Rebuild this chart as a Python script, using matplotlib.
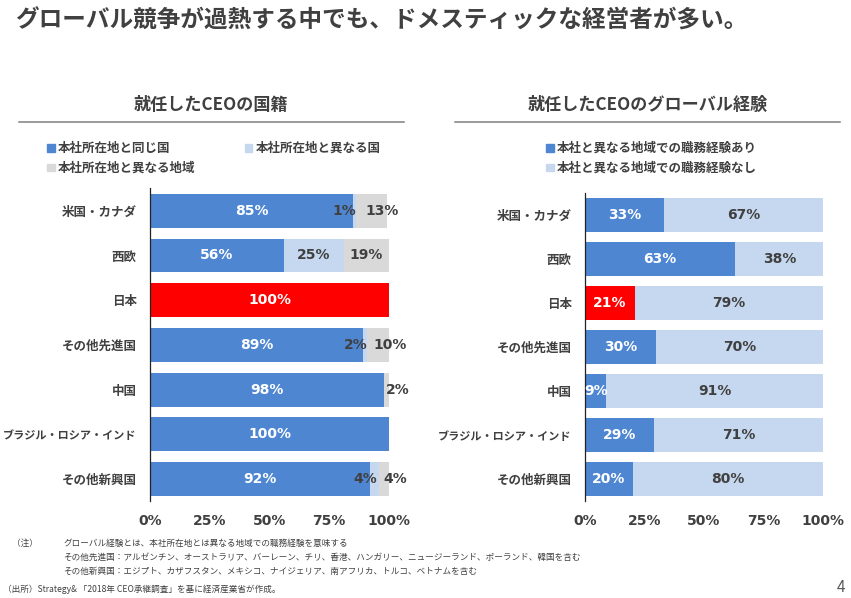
import matplotlib
matplotlib.use("Agg")
import matplotlib.pyplot as plt
from matplotlib.patches import Patch
import numpy as np

plt.rcParams['font.family'] = ['Noto Sans CJK JP', 'DejaVu Sans']

# data
regions = ['米国・カナダ', '西欧', '日本', 'その他先進国', '中国',
           'ブラジル・ロシア・インド', 'その他新興国']
same_country = [85, 56, 100, 89, 98, 100, 92]
other_country = [1, 25, 0, 2, 0, 0, 4]
other_region = [13, 19, 0, 10, 2, 0, 4]
with_exp = [33, 63, 21, 30, 9, 29, 20]
without_exp = [67, 38, 79, 70, 91, 71, 80]
xticks = [0, 25, 50, 75, 100]

BLUE = '#4E86D2'
LIGHT = '#C6D8EF'
GRAY = '#D9D9D9'
RED = '#FF0000'
DARK = '#404040'

fig = plt.figure(figsize=(8.51, 5.98), dpi=100)

# main title
fig.text(15/851, 1 - 21/598, 'グローバル競争が過熱する中でも、ドメスティックな経営者が多い。',
         fontsize=17, fontweight='bold', color=DARK, va='center', ha='left')

ax1 = fig.add_axes([150/851, 0.1615, 239/851, 0.5234])
ax2 = fig.add_axes([585/851, 0.1622, 238/851, 0.515])

y = np.arange(len(regions))
h = 0.76


def setup(ax):
    ax.set_xlim(0, 100)
    ax.set_ylim(-0.5, len(regions) - 0.5)
    ax.invert_yaxis()
    for s in ['top', 'right', 'bottom']:
        ax.spines[s].set_visible(False)
    ax.spines['left'].set_linewidth(0.9)
    ax.spines['left'].set_color('#222222')
    ax.set_yticks(y)
    ax.set_yticklabels(regions, fontweight='bold', color=DARK)
    for t in ax.get_yticklabels():
        # long label would not fit in the margin otherwise
        t.set_fontsize(8 if len(t.get_text()) > 8 else 9)
    ax.set_xticks(xticks)
    ax.set_xticklabels([f'{t}%' for t in xticks], fontsize=10, fontweight='bold',
                       color=DARK, family='DejaVu Sans')
    ax.tick_params(length=0)
    ax.tick_params(axis='y', pad=9.5)
    ax.tick_params(axis='x', pad=9)


def label(ax, x, yy, v, color):
    if v <= 0:
        return
    ax.text(x, yy, f'{v}%', ha='center', va='center', fontsize=10,
            fontweight='bold', color=color, family='DejaVu Sans')


# left chart
c1 = [RED if r == '日本' else BLUE for r in regions]
s = np.array(same_country)
o = np.array(other_country)
g = np.array(other_region)
ax1.barh(y, s, height=h, color=c1)
ax1.barh(y, o, left=s, height=h, color=LIGHT)
ax1.barh(y, g, left=s + o, height=h, color=GRAY)
for i in range(len(regions)):
    label(ax1, s[i] / 2, y[i], s[i], 'white')
    dx = -4 if o[i] < 10 else 0
    label(ax1, s[i] + o[i] / 2 + dx, y[i], o[i], DARK)
    dx = 4.5 if g[i] < 15 else 0
    label(ax1, s[i] + o[i] + g[i] / 2 + dx, y[i], g[i], DARK)
setup(ax1)

# right chart
c2 = [RED if r == '日本' else BLUE for r in regions]
w = np.array(with_exp)
n = np.array(without_exp)
ax2.barh(y, w, height=h, color=c2)
ax2.barh(y, n, left=w, height=h, color=LIGHT)
for i in range(len(regions)):
    label(ax2, w[i] / 2, y[i], w[i], 'white')
    label(ax2, w[i] + n[i] / 2, y[i], n[i], DARK)
setup(ax2)

# legends
lh1 = [Patch(color=BLUE), Patch(color=GRAY), Patch(color=LIGHT)]
ll1 = ['本社所在地と同じ国', '本社所在地と異なる地域', '本社所在地と異なる国']
leg1 = fig.legend(lh1, ll1, ncol=2, loc='upper left', bbox_to_anchor=(47/851, 1 - 142/598),
                  frameon=False, handlelength=0.6, handleheight=0.6, handletextpad=0.3,
                  columnspacing=3.9, labelspacing=0.55, borderaxespad=0, borderpad=0,
                  prop={'size': 9, 'weight': 'bold'})
for t in leg1.get_texts():
    t.set_color(DARK)
lh2 = [Patch(color=BLUE), Patch(color=LIGHT)]
ll2 = ['本社と異なる地域での職務経験あり', '本社と異なる地域での職務経験なし']
leg2 = fig.legend(lh2, ll2, ncol=1, loc='upper left', bbox_to_anchor=(546/851, 1 - 142/598),
                  frameon=False, handlelength=0.6, handleheight=0.6, handletextpad=0.3,
                  labelspacing=0.55, borderaxespad=0, borderpad=0,
                  prop={'size': 9, 'weight': 'bold'})
for t in leg2.get_texts():
    t.set_color(DARK)

# panel titles with underline
fig.text(211/851, 1 - 105/598, '就任したCEOの国籍', fontsize=12.3, fontweight='bold',
         color=DARK, ha='center', va='center')
fig.text(648/851, 1 - 105/598, '就任したCEOのグローバル経験', fontsize=12.3, fontweight='bold',
         color=DARK, ha='center', va='center')
fig.add_artist(plt.Line2D([19/851, 404/851], [1 - 122/598] * 2, color='#7F7F7F', lw=1.1))
fig.add_artist(plt.Line2D([455/851, 840/851], [1 - 122/598] * 2, color='#7F7F7F', lw=1.1))

# notes
nfs = 6.2
fig.text(12/851, 1 - 543/598, '（注）', fontsize=nfs, color=DARK, va='center')
fig.text(63/851, 1 - 543/598, 'グローバル経験とは、本社所在地とは異なる地域での職務経験を意味する',
         fontsize=nfs, color=DARK, va='center')
fig.text(63/851, 1 - 557/598, 'その他先進国：アルゼンチン、オーストラリア、バーレーン、チリ、香港、ハンガリー、ニュージーランド、ポーランド、韓国を含む',
         fontsize=nfs, color=DARK, va='center')
fig.text(63/851, 1 - 571/598, 'その他新興国：エジプト、カザフスタン、メキシコ、ナイジェリア、南アフリカ、トルコ、ベトナムを含む',
         fontsize=nfs, color=DARK, va='center')
fig.text(3/851, 1 - 589/598, '（出所）Strategy& 「2018年 CEO承継調査」を基に経済産業省が作成。',
         fontsize=nfs, color=DARK, va='center')
fig.text(845/851, 1 - 587/598, '4', fontsize=11, color='#595959', ha='right', va='center')

fig.savefig('out.png', dpi=100)
